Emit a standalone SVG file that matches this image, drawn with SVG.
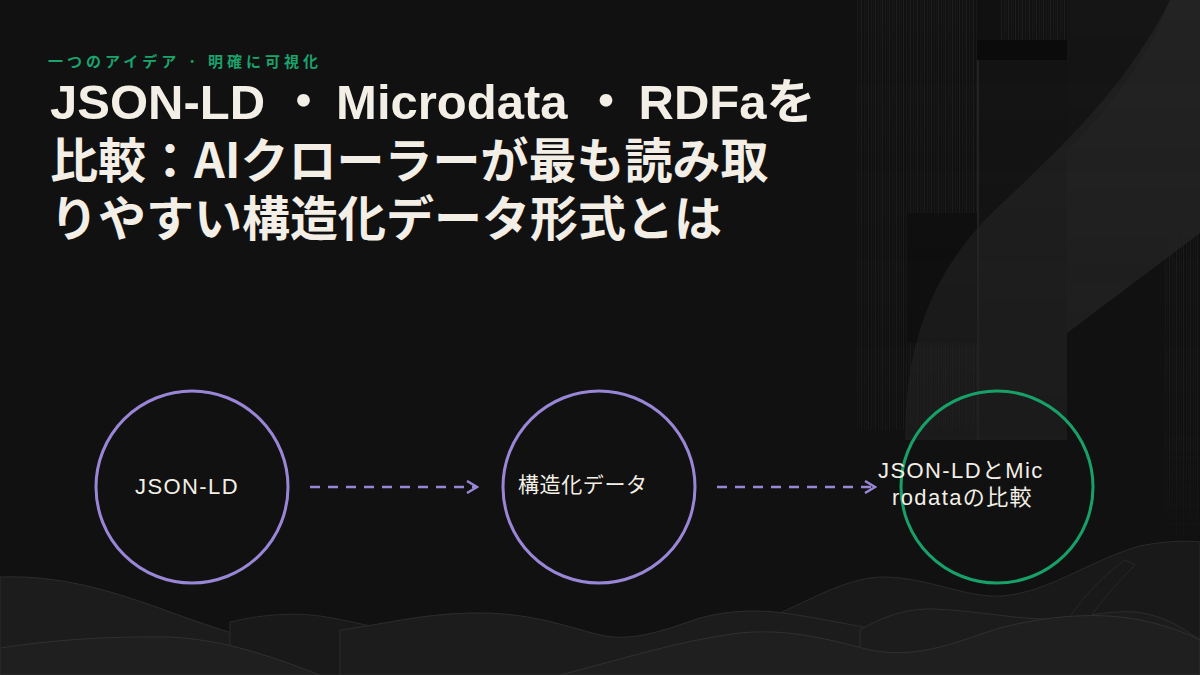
<svg xmlns="http://www.w3.org/2000/svg" width="1200" height="675" viewBox="0 0 1200 675">
<defs>
<style>
.title{font-family:"Noto Sans CJK JP","Noto Sans",sans-serif;font-weight:700;font-size:48px;fill:#f3efe6}
.tl{font-family:"Liberation Sans","Noto Sans CJK JP",sans-serif;font-weight:700;font-size:49px;fill:#f3efe6}
.sub{font-family:"Noto Sans CJK JP","Noto Sans",sans-serif;font-weight:600;font-size:15px;fill:#1aa36c;letter-spacing:4px}
.lbl{font-family:"Liberation Sans","Noto Sans CJK JP",sans-serif;font-size:22px;fill:#f3efe6;letter-spacing:1.4px}
.node{fill:none;stroke-width:3}
.conn{stroke:#9a86d6;stroke-width:2.5;stroke-dasharray:10 8;fill:none}
.w1{fill:#191919;stroke:#2a2a2a;stroke-width:1}
.w2{fill:#1c1c1c;stroke:#2d2d2d;stroke-width:1}
.w3{fill:#1f1f1f;stroke:#303030;stroke-width:1}
</style>
<pattern id="stripes" width="7" height="10" patternUnits="userSpaceOnUse">
<rect width="7" height="10" fill="#111"/>
<rect x="0" width="1" height="10" fill="#1e1e1e"/>
<rect x="3" width="1" height="10" fill="#191919"/>
<rect x="5" width="1" height="10" fill="#161616"/>
</pattern>
<linearGradient id="fade" x1="0" y1="0" x2="0" y2="1">
<stop offset="0" stop-color="#fff" stop-opacity="1"/>
<stop offset="0.8" stop-color="#fff" stop-opacity="0.7"/>
<stop offset="1" stop-color="#fff" stop-opacity="0"/>
</linearGradient>
<mask id="fadeMask"><rect x="850" y="0" width="350" height="560" fill="url(#fade)"/></mask>
<marker id="arr" markerWidth="14" markerHeight="14" refX="12" refY="7" orient="auto" markerUnits="userSpaceOnUse">
<path d="M2,1 L12,7 L2,13" fill="none" stroke="#9a86d6" stroke-width="2.5"/>
</marker>
</defs>
<rect width="1200" height="675" fill="#111111"/>
<g id="background">
<g mask="url(#fadeMask)">
<rect x="855" y="0" width="122" height="430" fill="url(#stripes)"/>
<rect x="907" y="213" width="70" height="130" fill="#0f0f0f"/>
<rect x="1000" y="0" width="67" height="40" fill="url(#stripes)"/>
<rect x="977" y="40" width="90" height="20" fill="#0b0b0b"/>
<rect x="977" y="60" width="90" height="380" fill="#141414"/>
<rect x="977" y="60" width="2" height="380" fill="#242424"/>
<rect x="1067" y="0" width="133" height="260" fill="#151515"/>
<rect x="1165" y="233" width="35" height="320" fill="url(#stripes)"/>
<path d="M1170,0 L1200,0 L1200,233 L1067,333 L1067,440 L905,440 C905,330 940,262 1000,205 C1070,140 1130,80 1170,0 Z" fill="#2c2c2c" opacity="0.5"/>
<path d="M1170,0 L1200,0 L1200,233 L1067,333 L1067,150 C1110,110 1150,55 1170,0 Z" fill="#262626" opacity="0.6"/>
</g>
<path class="w1" d="M780,613 C820,595 850,577 885,577 C930,578 965,598 1002,596 C1050,592 1090,560 1140,546 C1170,540 1190,541 1200,542 L1200,675 L780,675 Z"/>
<path class="w2" d="M0,577 C60,575 110,590 170,612 C220,630 250,640 300,650 L300,675 L0,675 Z"/>
<path class="w1" d="M230,622 C260,615 290,612 320,616 C345,620 365,625 380,628 L380,675 L230,675 Z"/>
<path class="w2" d="M340,630 C380,625 420,614 470,613 C530,612 560,625 600,635 C630,642 660,632 700,618 C730,610 760,609 790,614 C830,620 850,625 870,628 L870,675 L340,675 Z"/>
<path class="w2" d="M860,630 C880,618 905,608 935,609 C980,611 1020,620 1052,619 C1080,618 1110,610 1135,612 C1165,615 1185,630 1200,640 L1200,675 L860,675 Z"/>
<path class="w1" d="M1065,625 C1080,600 1100,578 1125,560 L1135,565 C1115,585 1098,605 1085,625 Z" opacity="0.9"/>
<path class="w3" d="M0,648 C50,640 110,636 170,637 C230,640 280,660 320,675 L0,675 Z"/>
<path class="w3" d="M560,675 C620,660 680,640 740,633 C790,628 830,640 870,650 C920,660 960,640 1000,628 C1050,615 1100,612 1140,620 C1170,626 1190,635 1200,640 L1200,675 Z"/>
</g>
<g id="header">
<text class="sub" x="48" y="67">一つのアイデア · 明確に可視化</text>
<text class="tl" x="50" y="119">JSON-LD<tspan dx="14">・</tspan><tspan dx="8">Microdata</tspan><tspan dx="14">・</tspan><tspan dx="8">RDFaを</tspan></text>
<text class="title" x="50" y="178">比較：AIクローラーが最も読み取</text>
<text class="title" x="50" y="236">りやすい構造化データ形式とは</text>
</g>
<g id="connectors">
<line class="conn" x1="310" y1="487" x2="477" y2="487" marker-end="url(#arr)"/>
<line class="conn" x1="717" y1="487" x2="875" y2="487" marker-end="url(#arr)"/>
</g>
<g id="node-jsonld">
<circle class="node" cx="192" cy="487" r="96" stroke="#9a86d6"/>
<text class="lbl" x="135" y="494">JSON-LD</text>
</g>
<g id="node-structured">
<circle class="node" cx="599" cy="487" r="96" stroke="#9a86d6"/>
<text class="lbl" x="518" y="492" style="font-size:21px;letter-spacing:0.6px">構造化データ</text>
</g>
<g id="node-compare">
<circle class="node" cx="997" cy="487" r="96" stroke="#17a068"/>
<text class="lbl" x="878" y="478">JSON-LDとMic</text>
<text class="lbl" x="892" y="505">rodataの比較</text>
</g>
</svg>
